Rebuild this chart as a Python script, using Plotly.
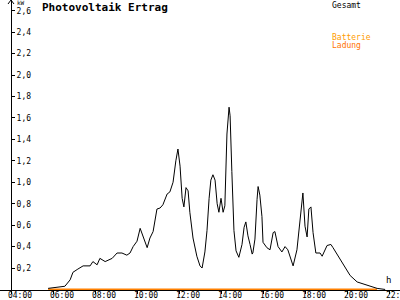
import plotly.graph_objects as go

DAY = "2024-06-01 "

gesamt_times = ["05:46", "06:14", "06:34", "06:49", "06:57", "07:11", "07:26", "07:46", "07:54",
                "08:06", "08:14", "08:29", "08:49", "09:03", "09:17", "09:31", "09:40", "09:49",
                "10:00", "10:09", "10:17", "10:29", "10:37", "10:46", "10:57", "11:06", "11:14",
                "11:26", "11:34", "11:43", "11:51", "11:57", "12:03", "12:09", "12:14", "12:20",
                "12:26", "12:31", "12:40", "12:51", "13:00", "13:06", "13:14", "13:20", "13:26",
                "13:31", "13:37", "13:43", "13:49", "13:54", "14:00", "14:06", "14:11", "14:17",
                "14:23", "14:26", "14:31", "14:37", "14:43", "14:51", "15:00", "15:06", "15:11",
                "15:17", "15:23", "15:29", "15:31", "15:37", "15:43", "15:46", "15:51", "15:57",
                "16:00", "16:11", "16:20", "16:29", "16:34", "16:43", "16:54", "17:03", "17:11",
                "17:26", "17:37", "17:46", "17:54", "18:00", "18:06", "18:11", "18:17", "18:23",
                "18:31", "18:43", "18:49", "19:03", "19:14", "19:20", "19:40", "19:54", "20:09",
                "20:29", "20:57", "21:26", "21:49"]
gesamt_kw = [0.01, 0.02, 0.03, 0.09, 0.16, 0.19, 0.22, 0.22, 0.26,
             0.23, 0.29, 0.26, 0.29, 0.34, 0.34, 0.32, 0.34, 0.40,
             0.45, 0.57, 0.49, 0.39, 0.48, 0.54, 0.75, 0.76, 0.79,
             0.89, 0.91, 1.00, 1.20, 1.31, 1.15, 0.85, 0.77, 0.95,
             0.92, 0.72, 0.48, 0.31, 0.22, 0.20, 0.35, 0.55, 0.85,
             1.02, 1.07, 1.02, 0.80, 0.72, 0.85, 0.72, 0.78, 1.45,
             1.70, 1.62, 1.10, 0.55, 0.36, 0.30, 0.42, 0.58, 0.63,
             0.50, 0.42, 0.33, 0.34, 0.47, 0.84, 0.96, 0.88, 0.68,
             0.44, 0.39, 0.37, 0.53, 0.54, 0.40, 0.35, 0.40, 0.37,
             0.22, 0.37, 0.68, 0.90, 0.59, 0.49, 0.75, 0.77, 0.53,
             0.34, 0.34, 0.31, 0.41, 0.42, 0.39, 0.28, 0.20, 0.13,
             0.07, 0.04, 0.01, 0.00]

batterie_times = ["05:46", "21:26"]
batterie_kw = [0.0, 0.0]

x_ticks = ["04:00", "06:00", "08:00", "10:00", "12:00", "14:00", "16:00", "18:00", "20:00", "22:00"]
y_ticks = [0.2, 0.4, 0.6, 0.8, 1.0, 1.2, 1.4, 1.6, 1.8, 2.0, 2.2, 2.4, 2.6]
y_tick_text = ["0,2", "0,4", "0,6", "0,8", "1,0", "1,2", "1,4", "1,6", "1,8", "2,0", "2,2", "2,4", "2,6"]

FONT = "DejaVu Sans Mono"
W = 400.0
YAX = 11 / W  # paper x of the y axis line

fig = go.Figure()
fig.add_trace(go.Scatter(x=[DAY + t for t in batterie_times], y=batterie_kw, mode="lines",
                         name="Batterie Ladung", line=dict(color="#FF8000", width=2)))
fig.add_trace(go.Scatter(x=[DAY + t for t in gesamt_times], y=gesamt_kw, mode="lines",
                         name="Gesamt", line=dict(color="black", width=1)))

fig.update_layout(
    width=400, height=300, autosize=False,
    margin=dict(l=0, r=0, t=0, b=10, pad=0),
    paper_bgcolor="white", plot_bgcolor="white",
    showlegend=False,
    font=dict(family=FONT, size=8, color="black"),
    xaxis=dict(
        type="date",
        range=[DAY + "03:28:34", DAY + "22:31:26"],
        tickvals=[DAY + t for t in x_ticks], ticktext=x_ticks,
        showgrid=False, zeroline=False,
        showline=True, linecolor="black", linewidth=1,
        ticks="outside", ticklen=3, tickcolor="black",
        ticklabelshift=9, ticklabelstandoff=-6,
        ticklabeloverflow="allow",
        automargin=False,
        layer="below traces",
        tickfont=dict(family=FONT, size=8),
    ),
    yaxis=dict(
        range=[-0.005, 2.70],
        tickvals=y_ticks, ticktext=y_tick_text,
        side="right", anchor="free", position=YAX,
        showgrid=False, zeroline=False,
        showline=True, linecolor="black", linewidth=1,
        ticks="outside", ticklen=3, tickcolor="black",
        ticklabelstandoff=0,
        automargin=False,
        layer="below traces",
        tickfont=dict(family=FONT, size=8),
    ),
)

# y-axis arrow head
fig.add_shape(type="line", xref="paper", yref="paper", xsizemode="pixel", ysizemode="pixel",
              xanchor=YAX, yanchor=1, x0=-3, x1=0, y0=-4, y1=0, line=dict(color="black", width=1))
fig.add_shape(type="line", xref="paper", yref="paper", xsizemode="pixel", ysizemode="pixel",
              xanchor=YAX, yanchor=1, x0=3, x1=0, y0=-4, y1=0, line=dict(color="black", width=1))

anns = [
    dict(text="<b>Photovoltaik Ertrag</b>", x=40 / W, y=1.0, yshift=1, xanchor="left", yanchor="top",
         font=dict(family=FONT, size=11, color="black")),
    dict(text="kW", x=15 / W, y=1.0, yshift=3, xanchor="left", yanchor="top",
         font=dict(family=FONT, size=6, color="black")),
    dict(text="Gesamt", x=330 / W, y=1.0, yshift=1, xanchor="left", yanchor="top",
         font=dict(family=FONT, size=8, color="black")),
    dict(text="Batterie", x=330 / W, y=1.0, yshift=-31, xanchor="left", yanchor="top",
         font=dict(family=FONT, size=8, color="#FF9C00")),
    dict(text="Ladung", x=330 / W, y=1.0, yshift=-39, xanchor="left", yanchor="top",
         font=dict(family=FONT, size=8, color="#FF7400")),
    dict(text="h", x=384 / W, y=0.0, yshift=3, xanchor="left", yanchor="bottom",
         font=dict(family=FONT, size=9, color="black")),
]
for a in anns:
    fig.add_annotation(xref="paper", yref="paper", showarrow=False, **a)

fig.write_html("out.html")
